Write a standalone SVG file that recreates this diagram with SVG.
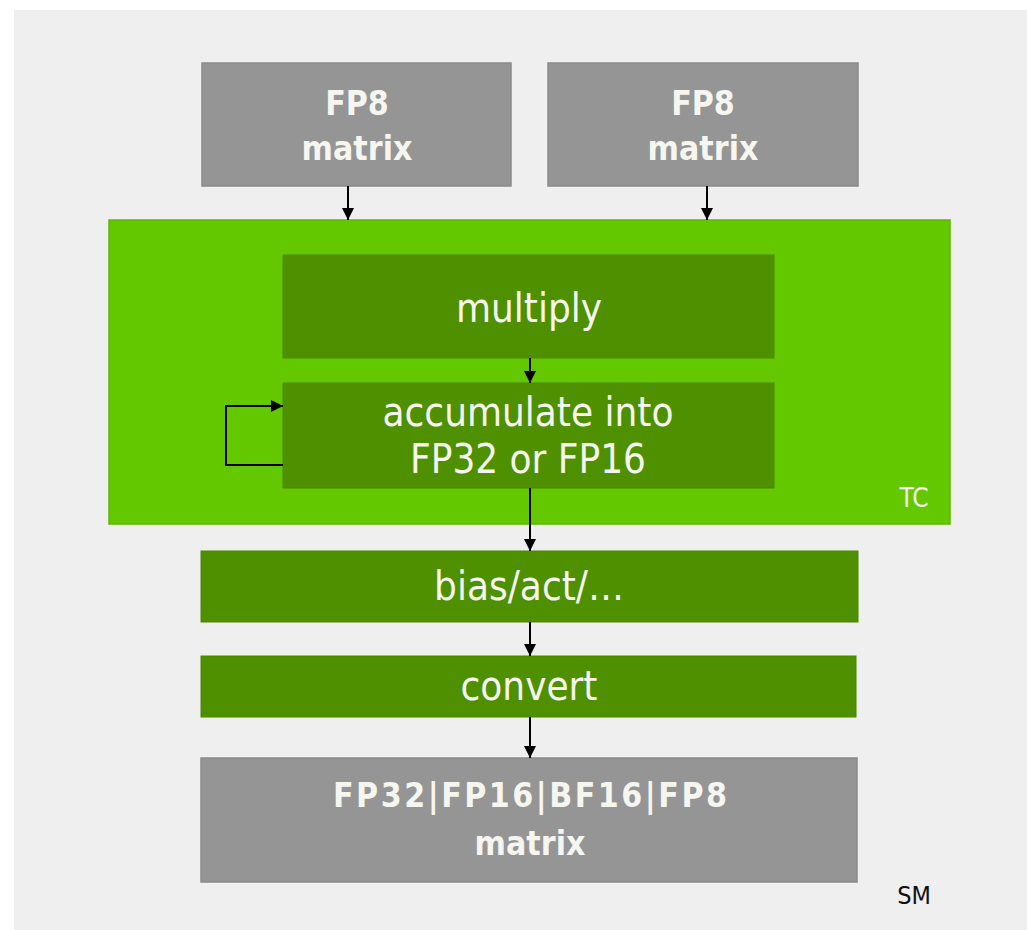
<svg xmlns="http://www.w3.org/2000/svg" width="1027" height="930" viewBox="0 0 1027 930">
<defs>
<style>
.bg{fill:#efefef}
.gray{fill:#959595;stroke:#8a8a8a;stroke-width:1.5}
.tc{fill:#64c800;stroke:#5cb800;stroke-width:1.5}
.dg{fill:#4f9000;stroke:#4a8700;stroke-width:1}
.t{font-family:"DejaVu Sans Condensed","DejaVu Sans",sans-serif;font-stretch:condensed;fill:#f6f6f0;text-anchor:middle}
.b{font-weight:bold;font-size:33.5px}
.r{font-size:40px}
.c{fill:none;stroke:#000;stroke-width:2}
</style>
<marker id="ah" viewBox="0 0 10 10" refX="10" refY="5" markerWidth="12" markerHeight="12" markerUnits="userSpaceOnUse" orient="auto">
<path d="M0,0 L10,5 L0,10 Z" fill="#000"/>
</marker>
</defs>
<rect class="bg" x="14" y="10" width="1013" height="920"/>
<g id="fp8a">
<rect class="gray" x="202" y="63" width="309" height="123"/>
<text class="t b" x="357" y="115">FP8</text>
<text class="t b" x="357" y="160">matrix</text>
</g>
<g id="fp8b">
<rect class="gray" x="548" y="63" width="310" height="123"/>
<text class="t b" x="703" y="115">FP8</text>
<text class="t b" x="703" y="160">matrix</text>
</g>
<g id="tc">
<rect class="tc" x="109" y="220" width="841" height="304"/>
<text class="t" x="914" y="507" font-size="26">TC</text>
</g>
<g id="multiply">
<rect class="dg" x="283" y="255" width="491" height="103"/>
<text class="t r" x="529" y="322">multiply</text>
</g>
<g id="accumulate">
<rect class="dg" x="283" y="383" width="491" height="105"/>
<text class="t r" x="528" y="426">accumulate into</text>
<text class="t r" x="528" y="473">FP32 or FP16</text>
</g>
<g id="bias">
<rect class="dg" x="201" y="551" width="657" height="71"/>
<text class="t r" x="529" y="600">bias/act/…</text>
</g>
<g id="convert">
<rect class="dg" x="201" y="656" width="655" height="61"/>
<text class="t r" x="529" y="700">convert</text>
</g>
<g id="output">
<rect class="gray" x="201" y="758" width="656" height="124"/>
<text class="t b" x="530" y="807" textLength="394" lengthAdjust="spacing">FP32|FP16|BF16|FP8</text>
<text class="t b" x="530" y="855">matrix</text>
</g>
<text id="sm" x="914" y="904" font-family="DejaVu Sans Condensed,DejaVu Sans,sans-serif" font-stretch="condensed" font-size="25" fill="#111" text-anchor="middle">SM</text>
<g id="connectors">
<line class="c" x1="348" y1="186" x2="348" y2="220" marker-end="url(#ah)"/>
<line class="c" x1="707" y1="186" x2="707" y2="220" marker-end="url(#ah)"/>
<line class="c" x1="530" y1="358" x2="530" y2="383" marker-end="url(#ah)"/>
<line class="c" x1="530" y1="488" x2="530" y2="551" marker-end="url(#ah)"/>
<line class="c" x1="530" y1="622" x2="530" y2="656" marker-end="url(#ah)"/>
<line class="c" x1="530" y1="717" x2="530" y2="758" marker-end="url(#ah)"/>
<path class="c" d="M283,465 H226 V406 H283" marker-end="url(#ah)"/>
</g>
</svg>
